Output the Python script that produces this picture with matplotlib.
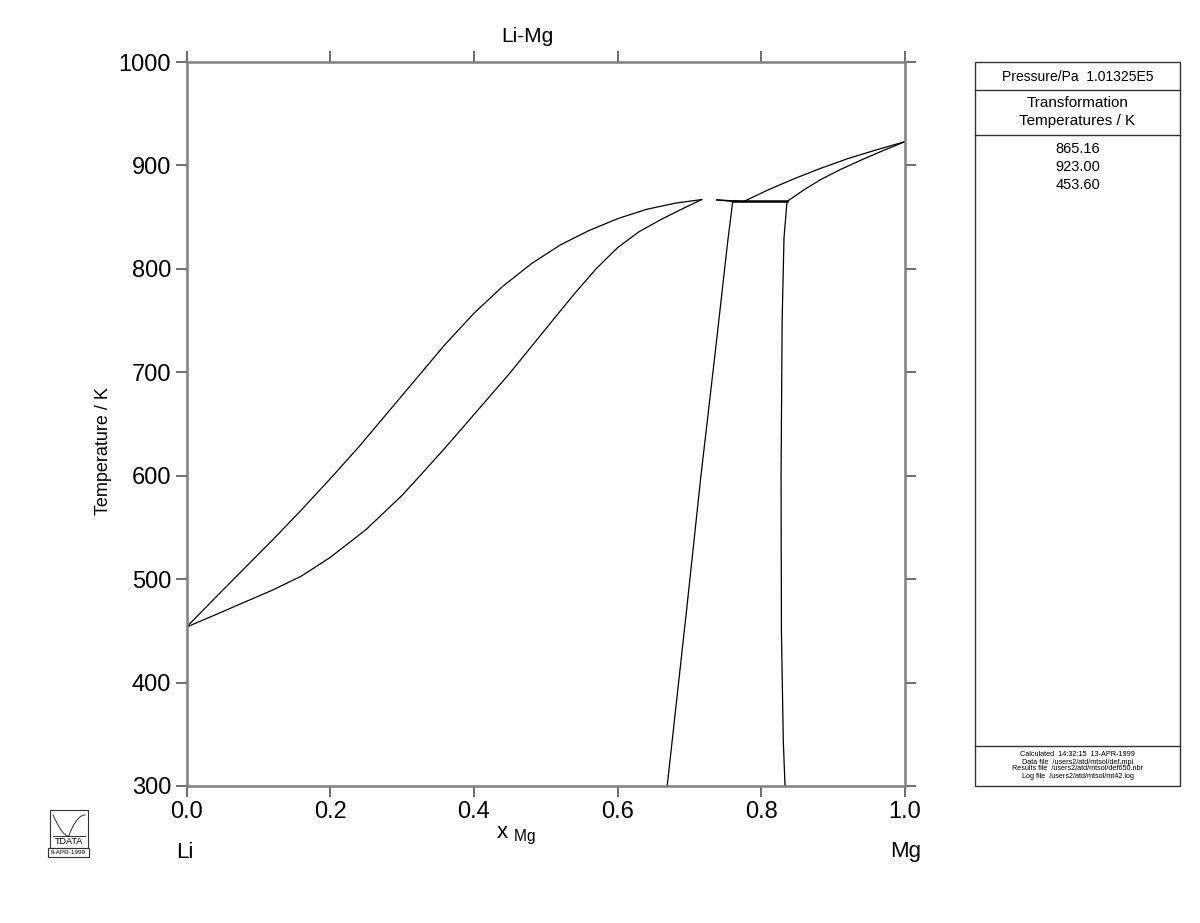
import matplotlib
matplotlib.use("Agg")
import matplotlib.pyplot as plt
from matplotlib.patches import Rectangle
from matplotlib.lines import Line2D
import numpy as np

plt.rcParams['font.family'] = ['Liberation Sans', 'DejaVu Sans']
plt.rcParams['mathtext.fontset'] = 'custom'
plt.rcParams['mathtext.rm'] = 'Liberation Sans'

# ---------------- data ----------------
title = "Li-Mg"
ylabel = "Temperature / K"
x_ticks = [0.0, 0.2, 0.4, 0.6, 0.8, 1.0]
y_ticks = [300, 400, 500, 600, 700, 800, 900, 1000]

# bcc liquidus (upper curve of the left loop)
liq_bcc_x = [0.0, 0.04, 0.08, 0.12, 0.16, 0.20, 0.24, 0.28, 0.32, 0.36, 0.40,
             0.44, 0.48, 0.52, 0.56, 0.60, 0.64, 0.68, 0.717]
liq_bcc_T = [453.6, 482, 510, 538, 567, 597, 628, 661, 694, 727, 757,
             783, 805, 823, 837, 848.5, 857.5, 863.5, 867]
# bcc solidus (lower curve of the left loop)
sol_bcc_x = [0.0, 0.04, 0.08, 0.12, 0.16, 0.20, 0.25, 0.30, 0.325, 0.36, 0.40,
             0.451, 0.50, 0.54, 0.57, 0.60, 0.63, 0.662, 0.69, 0.717]
sol_bcc_T = [453.6, 465.5, 477.5, 489.5, 503, 521, 548, 581, 600, 627, 659,
             700, 742, 776, 800, 820.5, 836, 848.3, 858, 867]
# short pieces just above the eutectic
liq_bcc2_x = [0.738, 0.7756]
liq_bcc2_T = [866.7, 865.16]
sol_bcc2_x = [0.738, 0.7602]
sol_bcc2_T = [866.7, 865.16]
# eutectic line
eut_x = [0.7602, 0.8358]
eut_T = [865.16, 865.16]
# bcc / bcc+hcp boundary
bcc_bound_x = [0.669, 0.676, 0.696, 0.716, 0.736, 0.7537, 0.7602]
bcc_bound_T = [300, 344, 470, 600, 720, 829, 865.16]
# hcp / bcc+hcp boundary
hcp_bound_x = [0.833, 0.8306, 0.828, 0.8275, 0.829, 0.8316, 0.8358]
hcp_bound_T = [300, 344, 450, 600, 750, 830, 865.16]
# hcp liquidus and solidus
liq_hcp_x = [0.7756, 0.81, 0.8452, 0.88, 0.92, 0.96, 1.0]
liq_hcp_T = [865.16, 876.5, 887, 896.5, 906.5, 915, 923]
sol_hcp_x = [0.8358, 0.86, 0.8831, 0.91, 0.94, 0.97, 1.0]
sol_hcp_T = [865.16, 876.7, 886.5, 896, 905.5, 914.5, 923]

pressure_text = "Pressure/Pa  1.01325E5"
panel_header = ["Transformation", "Temperatures / K"]
transf_temps = ["865.16", "923.00", "453.60"]
footer_lines = ["Calculated  14:32:15  13-APR-1999",
                "Data file  /users2/atd/mtsol/def.mpi",
                "Results file  /users2/atd/mtsol/def650.nbr",
                "Log file  /users2/atd/mtsol/mt42.log"]

# ---------------- figure ----------------
W, H = 1200, 923
fig = plt.figure(figsize=(W / 100, H / 100), dpi=100)

def fx(px):
    return np.asarray(px) / W

def fy(py):
    return 1 - np.asarray(py) / H

ax_l, ax_r, ax_t, ax_b = 186.5, 905, 62, 786
ax = fig.add_axes([fx(ax_l), fy(ax_b), fx(ax_r) - fx(ax_l), fy(ax_t) - fy(ax_b)])

lc = 'black'
lw = 0.9
for xs, ts in [(liq_bcc_x, liq_bcc_T), (sol_bcc_x, sol_bcc_T),
               (liq_bcc2_x, liq_bcc2_T), (sol_bcc2_x, sol_bcc2_T),
               (bcc_bound_x, bcc_bound_T), (hcp_bound_x, hcp_bound_T),
               (liq_hcp_x, liq_hcp_T), (sol_hcp_x, sol_hcp_T)]:
    ax.plot(xs, ts, color=lc, lw=lw, solid_joinstyle='round')
ax.plot(eut_x, eut_T, color=lc, lw=1.8)

ax.set_xlim(0, 1)
ax.set_ylim(300, 1000)
ax.set_xticks(x_ticks)
ax.set_xticklabels([f"{v:.1f}" for v in x_ticks])
ax.set_yticks(y_ticks)
ax.tick_params(axis='both', which='both', direction='out', length=8, width=1.2,
               color='#555555', labelsize=17, top=True, right=True,
               labeltop=False, labelright=False, pad=3)
for s in ax.spines.values():
    s.set_color('#808080')
    s.set_linewidth(1.8)

fig.text(fx(103), fy(451), ylabel, fontsize=13, rotation=90, ha='center', va='center')
fig.text(fx(527), fy(36), title, fontsize=15, ha='center', va='center')

# x label and element names
fig.text(fx(516), fy(836), r"x $_{\mathrm{Mg}}$", fontsize=16, ha='center', va='center')
fig.text(fx(176), fy(852), "Li", fontsize=16, ha='left', va='center')
fig.text(fx(906), fy(852), "Mg", fontsize=16, ha='center', va='center')

# ---------------- side panel ----------------
pl, pr, pt, pb = 975, 1180, 62, 786
fig.patches.append(Rectangle((fx(pl), fy(pb)), fx(pr) - fx(pl), fy(pt) - fy(pb),
                             transform=fig.transFigure, fill=False, ec='#333333', lw=1.0))
for yy in [90, 135, 746]:
    fig.lines.append(Line2D([fx(pl), fx(pr)], [fy(yy), fy(yy)],
                            transform=fig.transFigure, color='#333333', lw=1.0))
pc = (pl + pr) / 2
fig.text(fx(pc), fy(77), pressure_text, fontsize=10, ha='center', va='center')
fig.text(fx(pc), fy(103), panel_header[0], fontsize=11, ha='center', va='center')
fig.text(fx(pc), fy(121), panel_header[1], fontsize=11, ha='center', va='center')
for i, t in enumerate(transf_temps):
    fig.text(fx(pc), fy(149 + 18 * i), t, fontsize=10.5, ha='center', va='center')
for i, t in enumerate(footer_lines):
    fig.text(fx(pc), fy(755 + 7 * i), t, fontsize=5.2, ha='center', va='center')

# ---------------- logo ----------------
lx0, lx1, ly0, ly1 = 50, 88, 810, 848
fig.patches.append(Rectangle((fx(lx0), fy(ly1)), fx(lx1) - fx(lx0), fy(ly0) - fy(ly1),
                             transform=fig.transFigure, fill=False, ec='#333333', lw=0.8))
fig.patches.append(Rectangle((fx(48), fy(857)), fx(89) - fx(48), fy(848) - fy(857),
                             transform=fig.transFigure, fill=False, ec='#333333', lw=0.8))
tt = np.linspace(0, 1, 30)
xa = lx0 + 3 + (69 - lx0 - 3) * tt
ya = 815 + (836 - 815) * np.sin(tt * np.pi / 2)
fig.lines.append(Line2D(fx(xa), fy(ya), transform=fig.transFigure, color='#333333', lw=0.7))
xb = 69 + (lx1 - 3 - 69) * tt
yb = 836 - (836 - 815) * np.sin(tt * np.pi / 2) ** 0.8
fig.lines.append(Line2D(fx(xb), fy(yb), transform=fig.transFigure, color='#333333', lw=0.7))
fig.lines.append(Line2D([fx(53), fx(85)], [fy(836), fy(836)], transform=fig.transFigure,
                        color='#333333', lw=0.7))
fig.text(fx(69), fy(842), "TDATA", fontsize=6.5, ha='center', va='center')
fig.text(fx(68.5), fy(852.5), "9-APR-1999", fontsize=4.6, ha='center', va='center')

fig.savefig("out.png", dpi=100)
